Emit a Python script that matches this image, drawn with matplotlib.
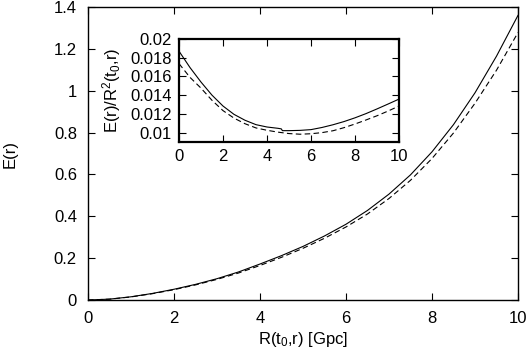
import numpy as np
import matplotlib
matplotlib.use('Agg')
import matplotlib.pyplot as plt

plt.rcParams['font.family'] = ['Liberation Sans', 'DejaVu Sans']
plt.rcParams['mathtext.fontset'] = 'custom'
plt.rcParams['mathtext.rm'] = 'Liberation Sans'
plt.rcParams['mathtext.it'] = 'Liberation Sans'

# main panel: E(r) vs R(t0,r)
r_main = [0, 0.5, 1, 1.5, 2, 2.5, 3, 3.5, 4, 4.5, 5, 5.5, 6, 6.5, 7, 7.5, 8, 8.5, 9, 9.5, 10]
e_solid = [0, 0.0042, 0.0154, 0.0315, 0.0514, 0.0747, 0.1019, 0.1340, 0.1720, 0.2120, 0.2560,
           0.3060, 0.3620, 0.4280, 0.5060, 0.5980, 0.7080, 0.8380, 0.9900, 1.1650, 1.360]
e_dashed = [0, 0.0040, 0.0148, 0.0303, 0.0494, 0.0722, 0.0986, 0.1290, 0.1650, 0.2040, 0.2470,
            0.2950, 0.3490, 0.4110, 0.4850, 0.5720, 0.6760, 0.7980, 0.9400, 1.0980, 1.278]

# inset: E(r)/R^2(t0,r)
r_in = [0, 0.5, 1, 1.5, 2, 2.5, 3, 3.5, 4, 4.5, 4.65, 4.7, 5, 5.5, 6, 6.5, 7, 7.5, 8, 8.5, 9, 9.5, 10]
ratio_solid = [0.0187, 0.01695, 0.0154, 0.0140, 0.01284, 0.01195, 0.01132, 0.01085, 0.0106, 0.01046,
               0.0104, 0.01021, 0.01021, 0.01024, 0.01032, 0.01055, 0.01084, 0.01118, 0.01158,
               0.01203, 0.01253, 0.01305, 0.01358]
r_in_d = [0, 0.5, 1, 1.5, 2, 2.5, 3, 3.5, 4, 4.5, 5, 5.5, 6, 6.5, 7, 7.5, 8, 8.5, 9, 9.5, 10]
ratio_dashed = [0.01737, 0.0159, 0.01475, 0.01345, 0.01235, 0.01155, 0.01095, 0.0105, 0.01025,
                0.01005, 0.0099, 0.00983, 0.00988, 0.0100, 0.0102, 0.01053, 0.01092, 0.01135,
                0.0118, 0.0123, 0.01284]

fig = plt.figure(figsize=(5.31, 3.59), dpi=100)
ax = fig.add_axes([0.1657, 0.1643, 0.8098, 0.8162])
ax.plot(r_main, e_solid, color='black', linewidth=0.8)
ax.plot(r_main, e_dashed, color='black', linewidth=0.8, dashes=(5, 3))
ax.set_xlim(0, 10)
ax.set_ylim(0, 1.4)
ax.set_xticks([0, 2, 4, 6, 8, 10])
ax.set_yticks([0, 0.2, 0.4, 0.6, 0.8, 1, 1.2, 1.4])
ax.set_yticklabels(['0', '0.2', '0.4', '0.6', '0.8', '1', '1.2', '1.4'])
ax.tick_params(direction='in', top=True, right=True, length=5, width=0.8, labelsize=12, pad=8)
ax.set_xlabel(r'R(t$_0$,r) [Gpc]', fontsize=12, labelpad=3)
ax.set_ylabel('E(r)', fontsize=12, labelpad=26)
for s in ax.spines.values():
    s.set_linewidth(1.0)

axi = fig.add_axes([0.3371, 0.6045, 0.4143, 0.2869])
axi.plot(r_in, ratio_solid, color='black', linewidth=0.8)
axi.plot(r_in_d, ratio_dashed, color='black', linewidth=0.8, dashes=(5, 3))
axi.set_xlim(0, 10)
axi.set_ylim(0.009, 0.02)
axi.set_xticks([0, 2, 4, 6, 8, 10])
axi.set_yticks([0.01, 0.012, 0.014, 0.016, 0.018, 0.02])
axi.set_yticklabels(['0.01', '0.012', '0.014', '0.016', '0.018', '0.02'])
axi.tick_params(direction='in', top=True, right=True, length=5, width=0.8, labelsize=12, pad=5)
axi.set_ylabel(r'E(r)/R$^2$(t$_0$,r)', fontsize=12, labelpad=5)
for s in axi.spines.values():
    s.set_linewidth(1.6)

fig.savefig('out.png', dpi=100)
